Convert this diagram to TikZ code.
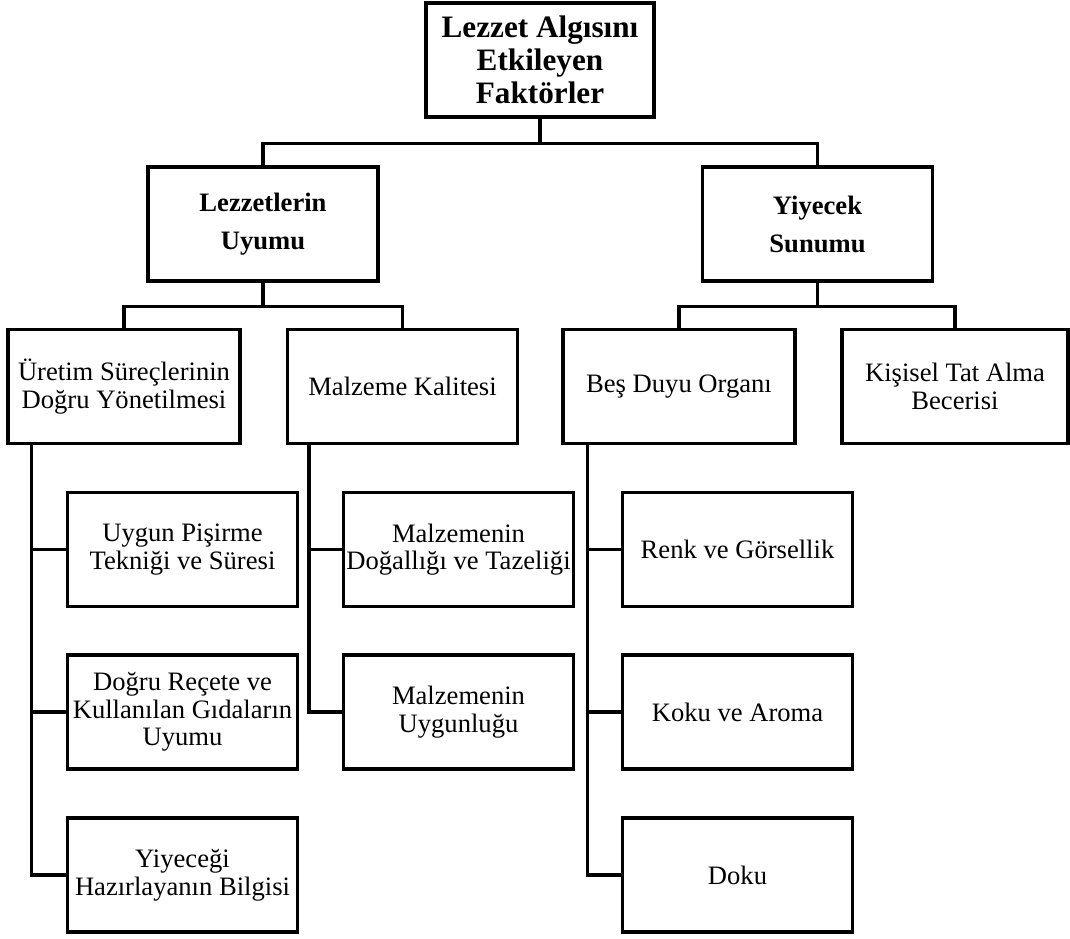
\documentclass[tikz,border=0pt]{standalone}
\usepackage{fontspec}
\setmainfont{Liberation Serif}
\usepackage{xcolor}
\usepackage{tikz}

\begin{document}
\begin{tikzpicture}[x=0.5pt, y=-0.5pt, line width=1.6pt,
        box/.style={draw, rectangle, inner sep=0pt, minimum width=115pt, minimum height=57pt,
            align=center, font=\fontsize{13.3}{13.8}\selectfont},
        headbox/.style={box, font=\fontsize{13.3}{19}\selectfont\bfseries},
        rootbox/.style={box, minimum width=114pt, font=\fontsize{15.6}{16.5}\selectfont\bfseries}]
        \useasboundingbox (0,0) rectangle (1070,938);
        % Root
        \node[rootbox] (root) at (540,60) {Lezzet Algısını\\Etkileyen\\Faktörler};
        % Main groups
        \node[headbox] (uyum) at (263,224) {Lezzetlerin\\Uyumu};
        \node[headbox] (sunum) at (817.5,224) {Yiyecek\\Sunumu};
        % Second level
        \node[box, minimum width=116pt] (uretim) at (124,386.5) {Üretim Süreçlerinin\\Doğru Yönetilmesi};
        \node[box] (malzeme) at (402.5,386.5) {Malzeme Kalitesi};
        \node[box, minimum width=116pt] (duyu) at (679,386.5) {Beş Duyu Organı};
        \node[box, minimum width=113pt] (tat) at (955,386.5) {Kişisel Tat Alma\\Becerisi};
        % Third level
        \node[box] (pisirme) at (182.5,549.5) {Uygun Pişirme\\Tekniği ve Süresi};
        \node[box] (recete) at (182.5,712) {Doğru Reçete ve\\Kullanılan Gıdaların\\Uyumu};
        \node[box] (bilgi) at (182.5,875) {Yiyeceği\\Hazırlayanın Bilgisi};
        \node[box] (tazelik) at (458.5,549.5) {Malzemenin\\Doğallığı ve Tazeliği};
        \node[box] (uygunluk) at (458.5,712) {Malzemenin\\Uygunluğu};
        \node[box] (renk) at (737.5,549.5) {Renk ve Görsellik};
        \node[box] (koku) at (737.5,712) {Koku ve Aroma};
        \node[box] (doku) at (737.5,875) {Doku};
        % Tree connectors
        \draw (root.south) -- ++(0,25) -| (uyum.north);
        \draw (root.south) -- ++(0,25) -| (sunum.north);
        \draw (uyum.south) -- ++(0,24) -| (uretim.north);
        \draw (uyum.south) -- ++(0,24) -| (malzeme.north);
        \draw (sunum.south) -- ++(0,24) -| (duyu.north);
        \draw (sunum.south) -- ++(0,24) -| (tat.north);
        % Side spines
        \draw ([xshift=12.5pt]uretim.south west) |- (bilgi.west);
        \draw ([xshift=12.5pt]uretim.south west) |- (pisirme.west);
        \draw ([xshift=12.5pt]uretim.south west) |- (recete.west);
        \draw ([xshift=11.5pt]malzeme.south west) |- (uygunluk.west);
        \draw ([xshift=11.5pt]malzeme.south west) |- (tazelik.west);
        \draw ([xshift=13pt]duyu.south west) |- (doku.west);
        \draw ([xshift=13pt]duyu.south west) |- (renk.west);
        \draw ([xshift=13pt]duyu.south west) |- (koku.west);
    \end{tikzpicture}
\end{document}
